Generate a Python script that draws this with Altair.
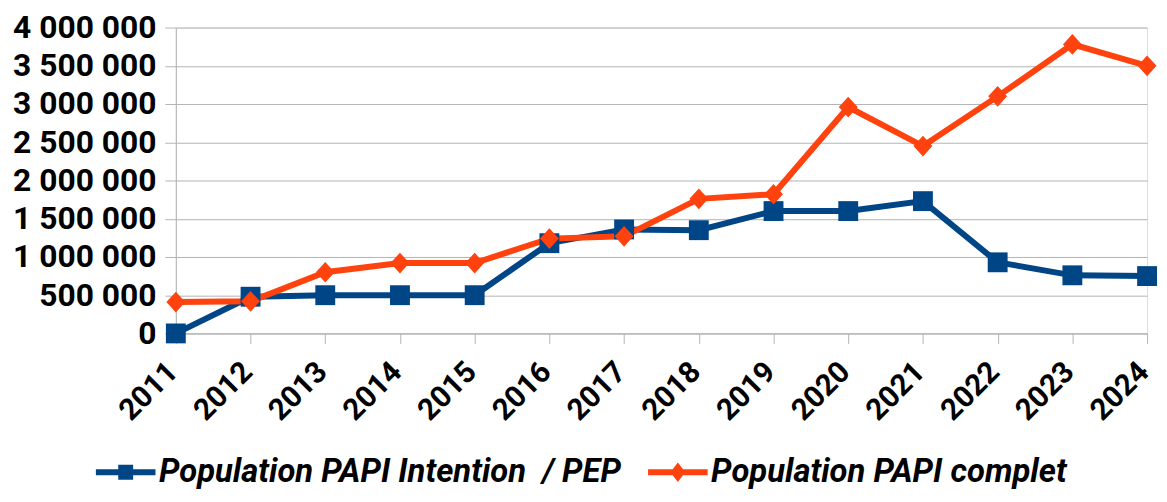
import altair as alt
import pandas as pd

years = [2011, 2012, 2013, 2014, 2015, 2016, 2017, 2018, 2019, 2020, 2021, 2022, 2023, 2024]
series_names = ["Population PAPI Intention  / PEP", "Population PAPI complet"]
papi_intention = [0, 480000, 500000, 500000, 500000, 1180000, 1360000, 1350000,
                  1600000, 1600000, 1730000, 930000, 760000, 750000]
papi_complet = [410000, 420000, 800000, 920000, 920000, 1240000, 1270000, 1760000,
                1820000, 2960000, 2450000, 3100000, 3780000, 3500000]
y_ticks = [0, 500000, 1000000, 1500000, 2000000, 2500000, 3000000, 3500000, 4000000]

colors = ["#004586", "#ff420e"]
FONT = "Roboto"
GRID = "#b3b3b3"

rows = []
for i, y in enumerate(years):
    rows.append({"year": str(y), "series": series_names[0], "value": papi_intention[i]})
    rows.append({"year": str(y), "series": series_names[1], "value": papi_complet[i]})
df = pd.DataFrame(rows)

x_enc = alt.X("year:O", scale=alt.Scale(padding=0),
              axis=alt.Axis(title=None, labelAngle=-45, labelAlign="right",
                            labelBaseline="alphabetic", labelOffset=3,
                            labelFontSize=30, labelFont=FONT,
                            labelFontWeight="bold", labelColor="black", tickSize=10,
                            tickColor=GRID, domainColor=GRID, labelPadding=30, grid=False))
y_enc = alt.Y("value:Q", scale=alt.Scale(domain=[0, 4000000], nice=False),
              axis=alt.Axis(title=None, values=y_ticks, labelFontSize=32, labelFont=FONT,
                            labelFontWeight="bold", labelColor="black", tickSize=11,
                            tickColor=GRID, domainColor=GRID, gridColor=GRID, labelPadding=9,
                            labelExpr="replace(replace(format(datum.value, ','), ',', ' '), ',', ' ')"))

base = alt.Chart(df)

marker_paths = ["M-1,-1H1V1H-1Z", "M0,-1.1L1,0L0,1.1L-1,0Z"]
marker_sizes = [400, 360]

layers = []
for i, name in enumerate(series_names):
    sub = base.transform_filter(alt.datum.series == name)
    layers.append(sub.mark_line(strokeWidth=6, color=colors[i]).encode(
        x=x_enc, y=y_enc, order=alt.Order("year:O")))
for i, name in enumerate(series_names):
    sub = base.transform_filter(alt.datum.series == name)
    layers.append(sub.mark_point(filled=True, opacity=1, size=marker_sizes[i],
                                 shape=marker_paths[i], strokeWidth=0, color=colors[i]).encode(
        x=x_enc, y=y_enc))

legend_paths = ["M-4,-0.4H4V0.4H-4Z M-1,-1H1V1H-1Z",
                "M-4,-0.4H4V0.4H-4Z M0,-1.3L1,0L0,1.3L-1,0Z"]

legend_layer = base.transform_filter("false").mark_point(
    filled=True, opacity=1, strokeWidth=0).encode(
    x=x_enc, y=y_enc,
    color=alt.Color("series:N", scale=alt.Scale(domain=series_names, range=colors),
                    legend=alt.Legend(title=None, orient="none", direction="horizontal",
                                      legendX=-97, legendY=431,
                                      labelFont=FONT, labelFontSize=33, labelFontWeight="bold",
                                      labelFontStyle="italic", labelColor="black",
                                      labelExpr="replace(datum.label, '  ', ' \u00a0')",
                                      symbolSize=225, symbolStrokeWidth=0, symbolOpacity=1,
                                      symbolOffset=30, labelOffset=17, columnPadding=10,
                                      labelLimit=700)),
    shape=alt.Shape("series:N", scale=alt.Scale(domain=series_names, range=legend_paths),
                    legend=alt.Legend(title=None)),
)
layers.append(legend_layer)

chart = alt.layer(*layers).properties(
    width=1159, height=486,
    autosize=alt.AutoSizeParams(type="fit", contains="padding"),
    padding={"left": 4, "top": 2, "right": 0, "bottom": 67},
).configure_view(stroke=GRID).configure(background="white")

chart.save("out.html", embed_options={"renderer": "svg", "actions": False})
